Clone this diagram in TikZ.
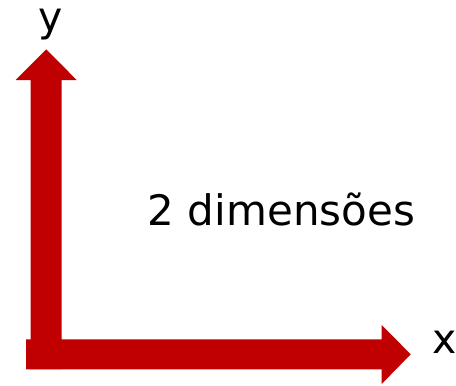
\documentclass[tikz,border=0pt]{standalone}
\usepackage{fontspec}
\setmainfont{DejaVu Sans}
\definecolor{axisred}{RGB}{192,0,0}
\tikzset{
  axisarrow/.style={fill=axisred, draw=none},
  axislabel/.style={inner sep=0pt, font=\fontsize{41}{44}\selectfont, text=black},
  bigtext/.style={inner sep=0pt, font=\fontsize{42}{46}\selectfont, text=black}
}
\begin{document}
\begin{tikzpicture}[x=1pt,y=-1pt]
\useasboundingbox (0,0) rectangle (456,386);
% vertical arrow (y)
\fill[axisarrow] (30.7,369) -- (30.7,80) -- (15.7,80) -- (46.2,49.3) -- (76.7,80) -- (61.7,80) -- (61.7,369) -- cycle;
% horizontal arrow (x)
\fill[axisarrow] (26,339.3) -- (381.7,339.3) -- (381.7,325) -- (410.7,354.3) -- (381.7,384) -- (381.7,369.3) -- (26,369.3) -- cycle;
\node[axislabel, anchor=base] (ylabel) at (51,31) {y};
\node[axislabel, anchor=base west] (xlabel) at (432,353) {x};
\node[bigtext, anchor=base] (title) at (281.5,225) {2 dimensões};
\end{tikzpicture}
\end{document}
